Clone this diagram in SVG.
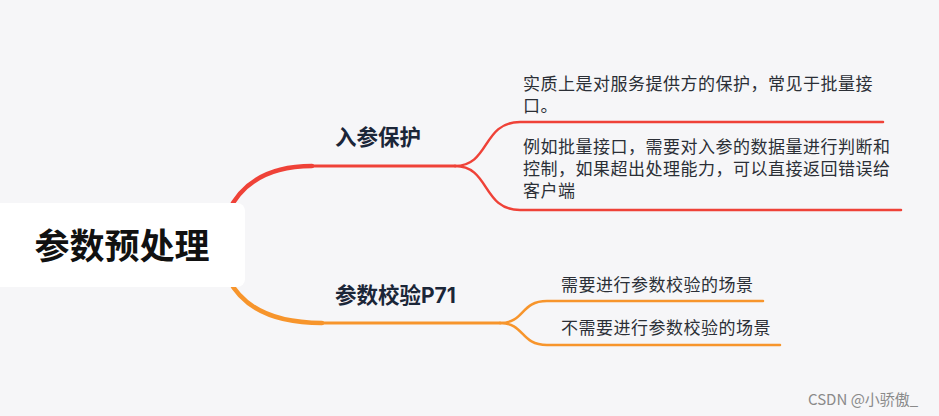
<svg xmlns="http://www.w3.org/2000/svg" width="939" height="416" viewBox="0 0 939 416">
<style>
.t{font-family:"Noto Sans CJK SC","Noto Sans",sans-serif}
.leaf{font-size:17px;letter-spacing:0.5px;fill:#2b2f36}
.topic{font-size:21.5px;font-weight:bold;fill:#1b2638}
.red{stroke:#ef4238;fill:none;stroke-linecap:round}
.org{stroke:#f7952c;fill:none;stroke-linecap:round}
</style>
<rect width="939" height="416" fill="#f6f6f8"/>
<g id="connectors">
<path class="red" stroke-width="4.5" d="M228 212 Q250 166 312 166"/>
<path class="red" stroke-width="3" d="M310 166 L455 166"/>
<path class="red" stroke-width="2.5" d="M455 166 C490 166 482 122 520 122 L883 122"/>
<path class="red" stroke-width="2.5" d="M455 166 C490 166 482 210 520 210 L901 210"/>
<path class="org" stroke-width="4.5" d="M228 278 Q250 323 322 323"/>
<path class="org" stroke-width="3" d="M320 323 L500 323"/>
<path class="org" stroke-width="2.5" d="M500 323 C525 323 520 301 547 301 L763 301"/>
<path class="org" stroke-width="2.5" d="M500 323 C525 323 520 345 547 345 L780 345"/>
</g>
<g id="root">
<rect x="-10" y="203" width="255" height="84" rx="8" fill="#ffffff"/>
<text class="t" x="122" y="259" text-anchor="middle" font-size="35" font-weight="bold" fill="#111111">参数预处理</text>
</g>
<g id="node-rucan">
<text class="t topic" x="335" y="145">入参保护</text>
</g>
<g id="node-leaf1">
<text class="t leaf" x="523" y="90">实质上是对服务提供方的保护，常见于批量接<tspan x="523" y="112">口。</tspan></text>
</g>
<g id="node-leaf2">
<text class="t leaf" x="523" y="153">例如批量接口，需要对入参的数据量进行判断和<tspan x="523" y="175">控制，如果超出处理能力，可以直接返回错误给</tspan><tspan x="523" y="197">客户端</tspan></text>
</g>
<g id="node-jiaoyan">
<text class="t topic" x="335" y="303">参数校验<tspan font-family="Inter, sans-serif" font-size="21px">P71</tspan></text>
</g>
<g id="node-leaf3">
<text class="t leaf" x="561" y="291">需要进行参数校验的场景</text>
</g>
<g id="node-leaf4">
<text class="t leaf" x="561" y="334">不需要进行参数校验的场景</text>
</g>
<text class="t" x="808" y="405" font-size="15" fill="#8a8a8a">CSDN @小骄傲_</text>
</svg>
